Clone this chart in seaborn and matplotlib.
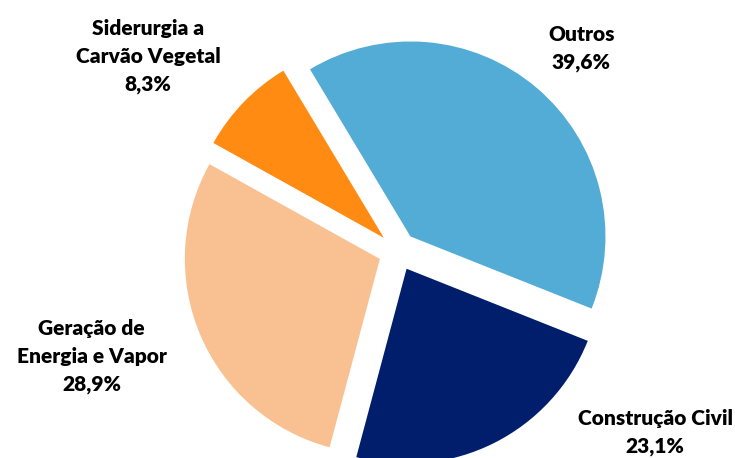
import matplotlib.pyplot as plt
import seaborn as sns

# Data
categories = ['Outros', 'Construção Civil', 'Geração de\nEnergia e Vapor', 'Siderurgia a\nCarvão Vegetal']
shares = [39.6, 23.1, 28.9, 8.3]
colors = ['#52acd5', '#001e6c', '#f9c192', '#ff8b13']

# Label positions (axes data units, pie radius = 1)
label_pos = [(0.94, 1.04), (1.32, -0.93), (-1.57, -0.54), (-1.28, 1.0)]

sns.set_theme(style='white')
plt.rcParams['font.family'] = ['Lato', 'DejaVu Sans']

fig = plt.figure(figsize=(7.35, 4.58), dpi=100)
ax = fig.add_axes([0, 0, 1, 1])

ax.pie(shares, colors=sns.color_palette(colors), startangle=121, counterclock=False,
       explode=[0.1] * len(shares), wedgeprops={'linewidth': 0})

for cat, val, (x, y) in zip(categories, shares, label_pos):
    txt = f"{cat}\n{val:.1f}%".replace('.', ',')
    ax.text(x, y, txt, ha='center', va='center', fontsize=15, fontweight='heavy',
            color='black', linespacing=1.55)

# Keep pie centred where the reference has it
ax.set_xlim(-2.04, 1.729)
ax.set_ylim(-1.06, 1.289)
ax.set_aspect('auto')
ax.axis('off')

fig.savefig('out.png', dpi=100)
